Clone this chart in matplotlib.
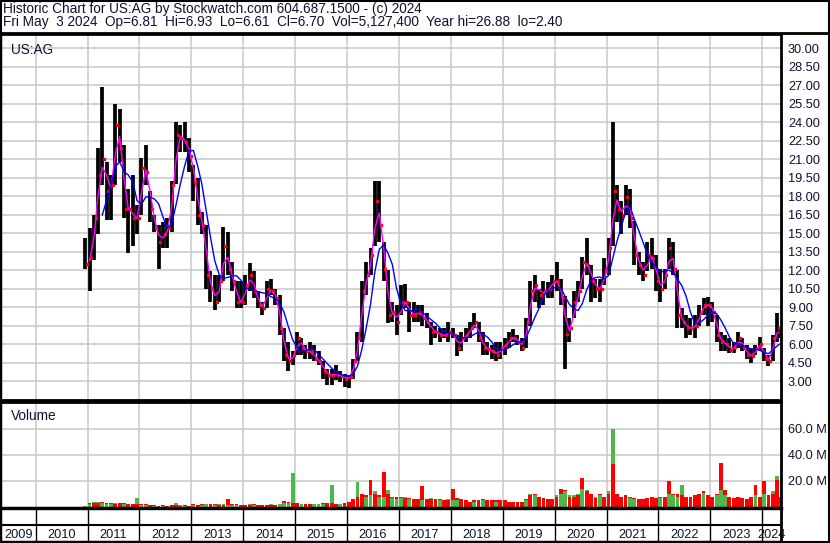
import numpy as np
import pandas as pd
import matplotlib
matplotlib.use("Agg")
import matplotlib.pyplot as plt
from matplotlib.lines import Line2D

plt.rcParams['font.family'] = ['Liberation Sans', 'DejaVu Sans']

# monthly bars, Dec 2010 .. May 2024
highs = [14.6,
         15.4, 16.5, 21.9, 26.9, 20.8, 19.7, 25.5, 25.1, 22.2, 18.6, 19.7, 17.3,
         21.1, 22.2, 18.4, 16.5, 15.7, 15.9, 16.2, 19.2, 24.0, 23.8, 24.0, 22.7,
         20.5, 19.5, 16.7, 15.7, 11.9, 11.6, 11.6, 15.5, 15.1, 12.7, 11.1, 11.1,
         11.6, 12.6, 11.9, 10.3, 9.4, 11.1, 11.3, 10.5, 10.0, 7.3, 6.2, 5.4,
         7.0, 6.5, 5.9, 6.2, 5.9, 5.4, 4.6, 4.0, 4.0, 4.3, 3.8, 3.6,
         3.5, 4.8, 7.0, 11.1, 12.7, 13.8, 19.2, 19.2, 14.3, 12.0, 9.4, 9.2,
         10.8, 10.9, 9.4, 9.4, 9.2, 9.2, 8.5, 7.8, 7.5, 7.3, 7.3, 7.8,
         7.3, 6.7, 7.0, 7.3, 7.8, 8.5, 7.8, 7.0, 6.2, 5.9, 6.2, 6.2,
         6.5, 7.0, 7.2, 6.7, 6.5, 8.1, 11.1, 11.6, 10.5, 11.1, 11.0, 11.6,
         12.7, 11.3, 9.9, 8.1, 10.3, 11.1, 13.1, 14.6, 12.4, 11.3, 11.3, 13.0,
         14.6, 24.0, 18.9, 17.6, 18.9, 18.6, 16.0, 13.5, 12.7, 14.3, 14.6, 13.2,
         12.1, 12.1, 14.6, 14.3, 12.0, 8.9, 8.4, 8.1, 8.4, 9.2, 9.7, 9.8,
         9.4, 8.4, 7.0, 6.7, 6.5, 6.2, 7.0, 6.5, 5.9, 5.7, 5.9, 6.6,
         5.7, 5.1, 6.7, 8.5, 7.3]
lows = [12.1,
        10.3, 12.8, 14.9, 18.9, 16.1, 16.1, 18.9, 20.8, 16.2, 13.4, 14.0, 14.9,
        16.5, 18.9, 15.9, 15.1, 12.1, 13.8, 13.8, 15.1, 19.0, 21.6, 21.6, 20.0,
        17.6, 15.7, 14.9, 10.5, 9.4, 8.8, 9.4, 11.1, 11.6, 10.3, 8.9, 8.9,
        9.2, 10.3, 9.7, 8.9, 8.4, 8.9, 10.0, 9.2, 6.7, 4.6, 3.8, 4.3,
        5.1, 5.1, 4.8, 4.8, 4.6, 4.3, 3.2, 2.7, 2.7, 3.1, 2.9, 2.5,
        2.4, 3.2, 4.6, 6.2, 10.0, 11.6, 14.0, 14.3, 11.1, 7.7, 7.8, 6.7,
        8.4, 8.9, 7.0, 7.8, 7.8, 7.5, 7.3, 5.9, 6.5, 6.2, 6.5, 6.2,
        6.5, 5.0, 5.4, 6.2, 6.5, 7.3, 6.2, 5.1, 5.1, 4.8, 4.6, 4.8,
        5.1, 5.7, 6.2, 5.9, 5.4, 5.7, 7.5, 9.4, 8.9, 9.2, 9.7, 9.7,
        10.3, 9.2, 4.0, 6.2, 8.1, 9.4, 10.5, 11.6, 9.4, 9.7, 9.4, 10.8,
        11.6, 14.0, 15.9, 14.9, 16.5, 15.4, 12.4, 11.6, 11.1, 11.9, 12.1, 10.3,
        9.4, 10.5, 12.1, 11.6, 7.3, 7.3, 6.5, 6.7, 6.5, 7.5, 8.4, 7.5,
        7.8, 6.2, 5.4, 5.4, 5.3, 5.3, 5.7, 5.4, 4.8, 4.5, 5.1, 5.4,
        4.6, 4.2, 4.6, 6.2, 6.5]
closes = [12.5,
          13.0, 16.2, 19.7, 21.0, 18.4, 18.9, 23.8, 21.9, 17.0, 17.0, 16.2, 16.2,
          20.3, 20.0, 17.0, 15.4, 14.3, 14.9, 15.4, 18.9, 23.0, 22.7, 22.4, 21.3,
          19.2, 16.5, 15.7, 11.6, 10.5, 9.4, 11.1, 14.0, 12.1, 11.1, 9.4, 9.4,
          10.8, 11.6, 10.3, 9.2, 8.9, 10.5, 10.3, 9.7, 7.3, 5.1, 4.6, 5.1,
          6.5, 5.7, 5.4, 5.4, 4.8, 4.6, 3.8, 3.5, 3.5, 3.5, 3.4, 3.2,
          3.3, 4.6, 6.5, 10.3, 11.6, 13.2, 17.6, 15.7, 12.1, 8.4, 8.6, 7.8,
          9.4, 9.4, 8.4, 8.4, 8.6, 8.1, 7.8, 7.0, 7.0, 6.7, 6.7, 7.0,
          6.7, 5.7, 6.5, 6.7, 7.3, 7.8, 6.5, 5.7, 5.6, 5.4, 5.1, 5.7,
          5.9, 6.5, 6.5, 6.2, 5.7, 7.8, 10.3, 10.8, 10.0, 10.3, 10.5, 11.1,
          11.1, 9.8, 6.8, 7.3, 9.4, 10.3, 12.7, 12.4, 11.1, 10.5, 10.5, 11.9,
          13.8, 18.4, 17.0, 16.5, 17.9, 16.2, 13.2, 12.4, 11.6, 13.2, 13.0, 11.1,
          10.5, 11.6, 13.8, 12.1, 8.4, 7.8, 7.3, 7.3, 7.5, 8.6, 9.2, 9.2,
          8.6, 6.7, 6.2, 6.0, 5.5, 5.8, 6.5, 5.7, 5.1, 5.0, 5.7, 6.0,
          4.8, 4.6, 6.5, 7.3, 6.7]

# monthly peak daily volume in millions, split by up (green) / down (red) days
vol_up = [0.8,
          2, 4, 4, 3, 2, 2, 3, 3, 2, 2, 2, 7,
          1.5, 1.5, 1.5, 1, 1, 1, 1, 1.5, 3, 1.5, 1, 1,
          1.5, 1.5, 1.5, 2, 2, 1.5, 2, 2, 1.5, 1.5, 1.5, 1.5,
          1.5, 2, 1.5, 1.5, 1.5, 1.5, 2, 1.5, 2, 3, 3, 26,
          3, 2, 2, 2, 2, 2, 2, 3, 17, 2.5, 2, 3,
          4, 6, 19, 10, 8, 9, 12, 8, 8, 13, 7, 6,
          7, 8, 6, 6, 6, 5, 6, 7, 6, 5, 5, 6,
          5, 5, 6, 5, 4, 4, 5, 5, 5, 5, 4, 5,
          5, 4, 4, 4, 4, 5, 10, 9, 8, 7, 6, 6,
          9, 10, 12, 9, 9, 10, 14, 13, 10, 8, 9, 8,
          12, 60, 10, 8, 9, 7, 6, 6, 6, 7, 8, 7,
          7, 8, 10, 9, 8, 17, 8, 8, 9, 10, 11, 9,
          8, 9, 13, 9, 8, 7, 8, 7, 6, 8, 9, 8,
          10, 9, 12, 24, 8]
vol_down = [1.0,
            3, 3, 3, 4, 3, 3, 2, 3, 3, 2, 2, 2,
            2, 2, 1.5, 1.5, 1, 1.5, 1, 1.5, 1.5, 1, 1.5, 1,
            2, 1.5, 2, 2.5, 2, 2, 1.5, 1.5, 6, 2, 2, 1.5,
            1.5, 1.5, 2, 1.5, 1.5, 1.5, 1.5, 1.5, 2.5, 4.5, 4, 3,
            3, 2.5, 2, 2, 2.5, 2.5, 3, 3, 3, 2.5, 2.5, 3,
            4, 6, 8, 10, 9, 21, 10, 9, 27, 10, 8, 8,
            8, 7, 7, 6, 6, 16, 6, 6, 6, 6, 5, 5,
            14, 7, 6, 5, 4, 5, 5, 6, 5, 5, 5, 5,
            5, 4, 4, 4, 4, 6, 9, 10, 8, 7, 6, 6,
            8, 14, 13, 8, 8, 9, 22, 12, 10, 7, 10, 8,
            10, 33, 10, 8, 9, 8, 7, 6, 6, 7, 8, 7,
            8, 8, 20, 10, 10, 9, 8, 8, 9, 10, 12, 9,
            8, 10, 34, 13, 8, 7, 8, 7, 6, 8, 17, 8,
            20, 9, 10, 21, 8]

price_ticks = [3.0, 4.5, 6.0, 7.5, 9.0, 10.5, 12.0, 13.5, 15.0, 16.5, 18.0,
               19.5, 21.0, 22.5, 24.0, 25.5, 27.0, 28.5, 30.0]
vol_ticks = [20, 40, 60]
years = list(range(2009, 2025))

header1 = "Historic Chart for US:AG by Stockwatch.com 604.687.1500 - (c) 2024"
header2 = ("Fri May  3 2024  Op=6.81  Hi=6.93  Lo=6.61  Cl=6.70  "
           "Vol=5,127,400  Year hi=26.88  lo=2.40")

dates = pd.period_range("2010-12", "2024-05", freq="M").to_timestamp() + pd.Timedelta(days=14)
dates = dates[:-1].append(pd.DatetimeIndex(["2024-05-02"]))
close_s = pd.Series(closes, index=dates)
ma_fast = close_s.rolling(2).mean()
ma_slow = close_s.rolling(5).mean()

W, H = 830, 543
fig = plt.figure(figsize=(W / 100, H / 100), dpi=100)
fig.patch.set_facecolor("white")


def rect(x0, y0, x1, y1):
    return [x0 / W, 1 - y1 / H, (x1 - x0) / W, (y1 - y0) / H]


xmin, xmax = pd.Timestamp("2009-05-02"), pd.Timestamp("2024-05-13")
year_starts = [pd.Timestamp(f"{y}-01-01") for y in range(2010, 2025)]
grid_c = "#c8c8c8"
txt_c = "#101030"

# price panel
ax = fig.add_axes(rect(1, 34, 781, 400))
ax.set_xlim(xmin, xmax)
ax.set_ylim(1.46, 31.17)
ax.set_yticks(price_ticks)
ax.set_yticklabels([f"{t:.2f}" for t in price_ticks])
ax.yaxis.tick_right()
ax.tick_params(axis="y", length=0, pad=5, labelsize=9.2, labelcolor=txt_c)
ax.set_xticks(year_starts)
ax.tick_params(axis="x", length=0, labelbottom=False)
ax.grid(True, color=grid_c, lw=1.1)
ax.set_axisbelow(True)
ax.vlines(dates, lows, highs, color="black", lw=2.7)
ax.plot(dates + pd.Timedelta(days=12), closes, ls="none", marker="s", ms=1.6,
        mec="red", mfc="red")
ax.plot(dates, ma_fast.values, color="#ff00ff", lw=1.0)
ax.plot(dates, ma_slow.values, color="#0000ff", lw=1.0)
ax.text(10 / 780, 0.975, "US:AG", transform=ax.transAxes, fontsize=9.8,
        color=txt_c, va="top")
for s in ax.spines.values():
    s.set_color("black")
ax.spines["left"].set_linewidth(1)
ax.spines["right"].set_linewidth(2)
ax.spines["top"].set_linewidth(2)
ax.spines["bottom"].set_linewidth(2)

# volume panel
axv = fig.add_axes(rect(1, 402, 781, 508))
axv.set_xlim(xmin, xmax)
axv.set_ylim(-0.8, 80.5)
axv.set_yticks(vol_ticks)
axv.set_yticklabels([f"{t:.1f} M" for t in vol_ticks])
axv.yaxis.tick_right()
axv.tick_params(axis="y", length=0, pad=5, labelsize=9.2, labelcolor=txt_c)
axv.set_xticks(year_starts)
axv.tick_params(axis="x", length=0, labelbottom=False)
axv.grid(True, color=grid_c, lw=1.1)
axv.set_axisbelow(True)
up = np.array(vol_up)
dn = np.array(vol_down)
wid = pd.Timedelta(days=27)
back_up = up >= dn
axv.bar(dates[back_up], up[back_up], width=wid, color="#4cb84c", lw=0)
axv.bar(dates[~back_up], dn[~back_up], width=wid, color="#ff0000", lw=0)
axv.bar(dates[back_up], dn[back_up], width=wid, color="#ff0000", lw=0)
axv.bar(dates[~back_up], up[~back_up], width=wid, color="#4cb84c", lw=0)
axv.text(10 / 780, 0.93, "Volume", transform=axv.transAxes, fontsize=9.8,
         color=txt_c, va="top")
for s in axv.spines.values():
    s.set_color("black")
axv.spines["left"].set_linewidth(1)
axv.spines["right"].set_linewidth(2)
axv.spines["top"].set_linewidth(2)
axv.spines["bottom"].set_linewidth(2.5)

# date strip
axd = fig.add_axes(rect(1, 509, 781, 541))
axd.set_xlim(xmin, xmax)
axd.set_ylim(0, 1)
axd.set_xticks([])
axd.set_yticks([])
for ys in year_starts:
    axd.axvline(ys, color="black", lw=1)
axd.axhline(0.5, color="black", lw=1.5)
for y in years:
    a = max(pd.Timestamp(f"{y}-01-01"), xmin)
    b = min(pd.Timestamp(f"{y + 1}-01-01"), xmax)
    axd.text(a + (b - a) / 2, 0.2, str(y), ha="center", va="center",
             fontsize=9.2, color=txt_c)
for s in axd.spines.values():
    s.set_color("black")
    s.set_linewidth(1)
axd.spines["right"].set_linewidth(2)

# header and outer frame
fig.text(3 / W, 1 - 9 / H, header1, fontsize=9.8, color=txt_c, va="center")
fig.text(3 / W, 1 - 22 / H, header2, fontsize=9.8, color=txt_c, va="center")
for (x0, y0, x1, y1, lw) in [(0.5, 0.5, 829, 0.5, 1.5), (0.5, 0.5, 0.5, 542, 1.5),
                             (828.5, 0.5, 828.5, 542, 1.5), (0, 542, 830, 542, 1.5),
                             (0, 33, 830, 33, 2)]:
    fig.add_artist(Line2D([x0 / W, x1 / W], [1 - y0 / H, 1 - y1 / H],
                          color="black", lw=lw))

fig.savefig("out.png", dpi=100, facecolor="white")
